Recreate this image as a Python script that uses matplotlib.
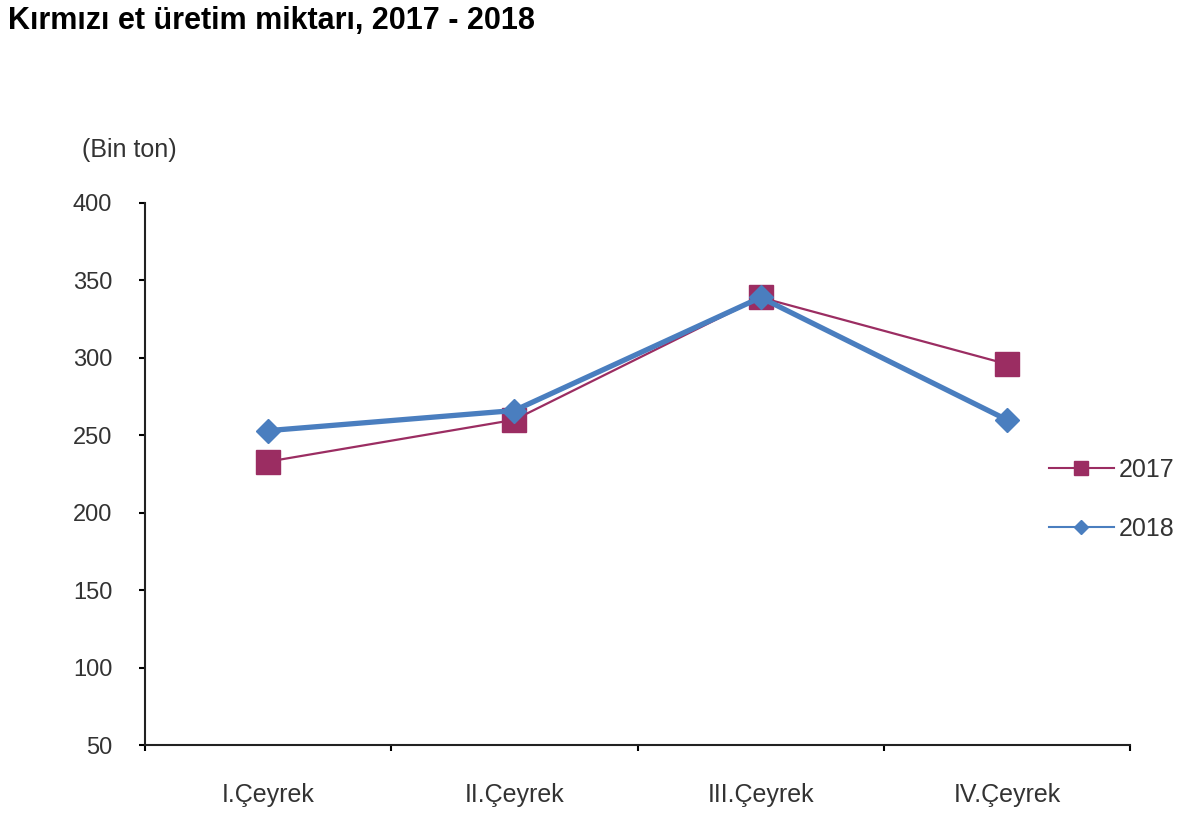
import numpy as np
import matplotlib.pyplot as plt

plt.rcParams["font.family"] = ["Liberation Sans", "DejaVu Sans"]

categories = ["I.Çeyrek", "II.Çeyrek", "III.Çeyrek", "IV.Çeyrek"]
values_2017 = [233, 260, 339, 296]
values_2018 = [253, 266, 339, 260]
y_ticks = [50, 100, 150, 200, 250, 300, 350, 400]

c2017 = "#9b2d62"
c2018 = "#4a7ebf"

fig = plt.figure(figsize=(12, 8.34), dpi=100)
ax = fig.add_axes([0.1208, 0.1067, 0.8209, 0.6499])

x = np.arange(len(categories))
ax.plot(x, values_2017, color=c2017, lw=1.6, marker="s", ms=17,
        mec=c2017, mfc=c2017, label="2017", zorder=3)
ax.plot(x, values_2018, color=c2018, lw=3.8, marker="D", ms=12,
        mec=c2018, mfc=c2018, label="2018", zorder=4)

ax.set_xlim(-0.5, len(categories) - 0.5)
ax.set_ylim(50, 400)
ax.set_yticks(y_ticks)
ax.set_yticklabels([str(v) for v in y_ticks], fontsize=17, color="#333333")
ax.set_xticks(x)
ax.set_xticklabels(categories, fontsize=18, color="#333333")
ax.set_xticks(np.arange(-0.5, len(categories)), minor=True)
ax.tick_params(axis="x", which="major", length=0, pad=27)
ax.tick_params(axis="x", which="minor", length=4.5, width=1.5, direction="out")
ax.tick_params(axis="y", length=4.5, width=1.5, direction="out", pad=19)

for s in ["top", "right"]:
    ax.spines[s].set_visible(False)
for s in ["left", "bottom"]:
    ax.spines[s].set_linewidth(1.5)
    ax.spines[s].set_color("#222222")

fig.text(0.007, 0.993, "Kırmızı et üretim miktarı, 2017 - 2018",
         fontsize=22, fontweight="bold", ha="left", va="top")
fig.text(0.068, 0.82, "(Bin ton)", fontsize=18, color="#333333",
         ha="left", va="center")

handles, labels = ax.get_legend_handles_labels()
leg = fig.legend(handles, labels, loc="center left",
                 bbox_to_anchor=(0.855, 0.401), frameon=False, fontsize=18,
                 markerscale=0.6, handlelength=2.6, labelspacing=1.4,
                 handletextpad=0.2)
for line in leg.get_lines():
    line.set_linewidth(1.5)
for t in leg.get_texts():
    t.set_color("#333333")

fig.savefig("out.png", dpi=100)
